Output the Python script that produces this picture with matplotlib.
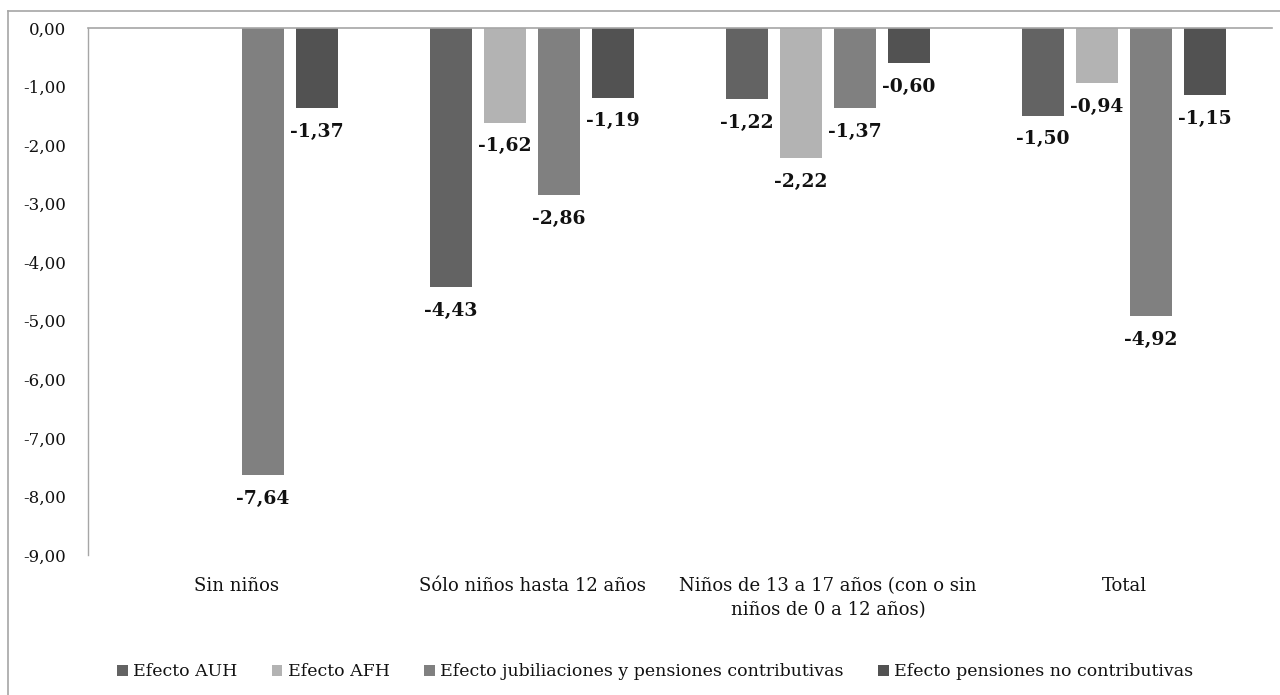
import numpy as np
import matplotlib
matplotlib.use("Agg")
import matplotlib.pyplot as plt
from matplotlib.lines import Line2D

categories = [
    "Sin niños",
    "Sólo niños hasta 12 años",
    "Niños de 13 a 17 años (con o sin\nniños de 0 a 12 años)",
    "Total",
]
series_names = [
    "Efecto AUH",
    "Efecto AFH",
    "Efecto jubiliaciones y pensiones contributivas",
    "Efecto pensiones no contributivas",
]
efecto_auh = [np.nan, -4.43, -1.22, -1.50]
efecto_afh = [np.nan, -1.62, -2.22, -0.94]
efecto_jubilaciones = [-7.64, -2.86, -1.37, -4.92]
efecto_pensiones_nc = [-1.37, -1.19, -0.60, -1.15]
y_ticks = [0, -1, -2, -3, -4, -5, -6, -7, -8, -9]

series = [efecto_auh, efecto_afh, efecto_jubilaciones, efecto_pensiones_nc]
colors = ["#636363", "#b3b3b3", "#808080", "#525252"]

plt.rcParams["font.family"] = ["DejaVu Serif"]

fig = plt.figure(figsize=(12.8, 6.95), dpi=100)
ax = fig.add_axes([88 / 1280, 1 - 555 / 695, (1272 - 88) / 1280, (555 - 28) / 695])

x = np.arange(len(categories))
step = 0.1824
width = 0.142
for i, (vals, col, name) in enumerate(zip(series, colors, series_names)):
    pos = x + (i - 1.5) * step
    ax.bar(pos, vals, width=width, color=col, label=name, zorder=2)
    for p, v in zip(pos, vals):
        if np.isnan(v):
            continue
        ax.annotate(f"{v:.2f}".replace(".", ","), (p, v),
                    xytext=(0, -17), textcoords="offset points",
                    ha="center", va="center", fontsize=13.5, fontweight="bold",
                    color="#111111")

ax.set_xlim(-0.5, len(categories) - 0.5)
ax.set_ylim(-9, 0)
ax.set_yticks(y_ticks)
ax.set_yticklabels([f"{t:.2f}".replace(".", ",") for t in y_ticks], fontsize=12)
ax.set_xticks(x)
ax.set_xticklabels(categories, fontsize=13, linespacing=1.45)
ax.tick_params(axis="y", length=0, pad=16)
ax.tick_params(axis="x", length=0, pad=16)
for lbl in ax.get_yticklabels() + ax.get_xticklabels():
    lbl.set_color("#111111")

for s in ["right", "bottom"]:
    ax.spines[s].set_visible(False)
ax.spines["left"].set_color("#a6a6a6")
ax.spines["top"].set_color("#a6a6a6")
ax.spines["left"].set_linewidth(1)
ax.spines["top"].set_linewidth(1.2)

# Outer chart frame
fig.add_artist(Line2D([8 / 1280, 8 / 1280], [0, 1 - 11 / 695], color="#a6a6a6", lw=1.2))
fig.add_artist(Line2D([8 / 1280, 1], [1 - 11 / 695, 1 - 11 / 695], color="#a6a6a6", lw=1.2))

leg = fig.legend(loc="center", bbox_to_anchor=(655 / 1280, 1 - 672 / 695), ncol=4,
                 frameon=False, fontsize=12.5, handlelength=0.6, handleheight=0.6,
                 handletextpad=0.3, columnspacing=2.0)
for t in leg.get_texts():
    t.set_color("#111111")

fig.savefig("out.png", dpi=100)
